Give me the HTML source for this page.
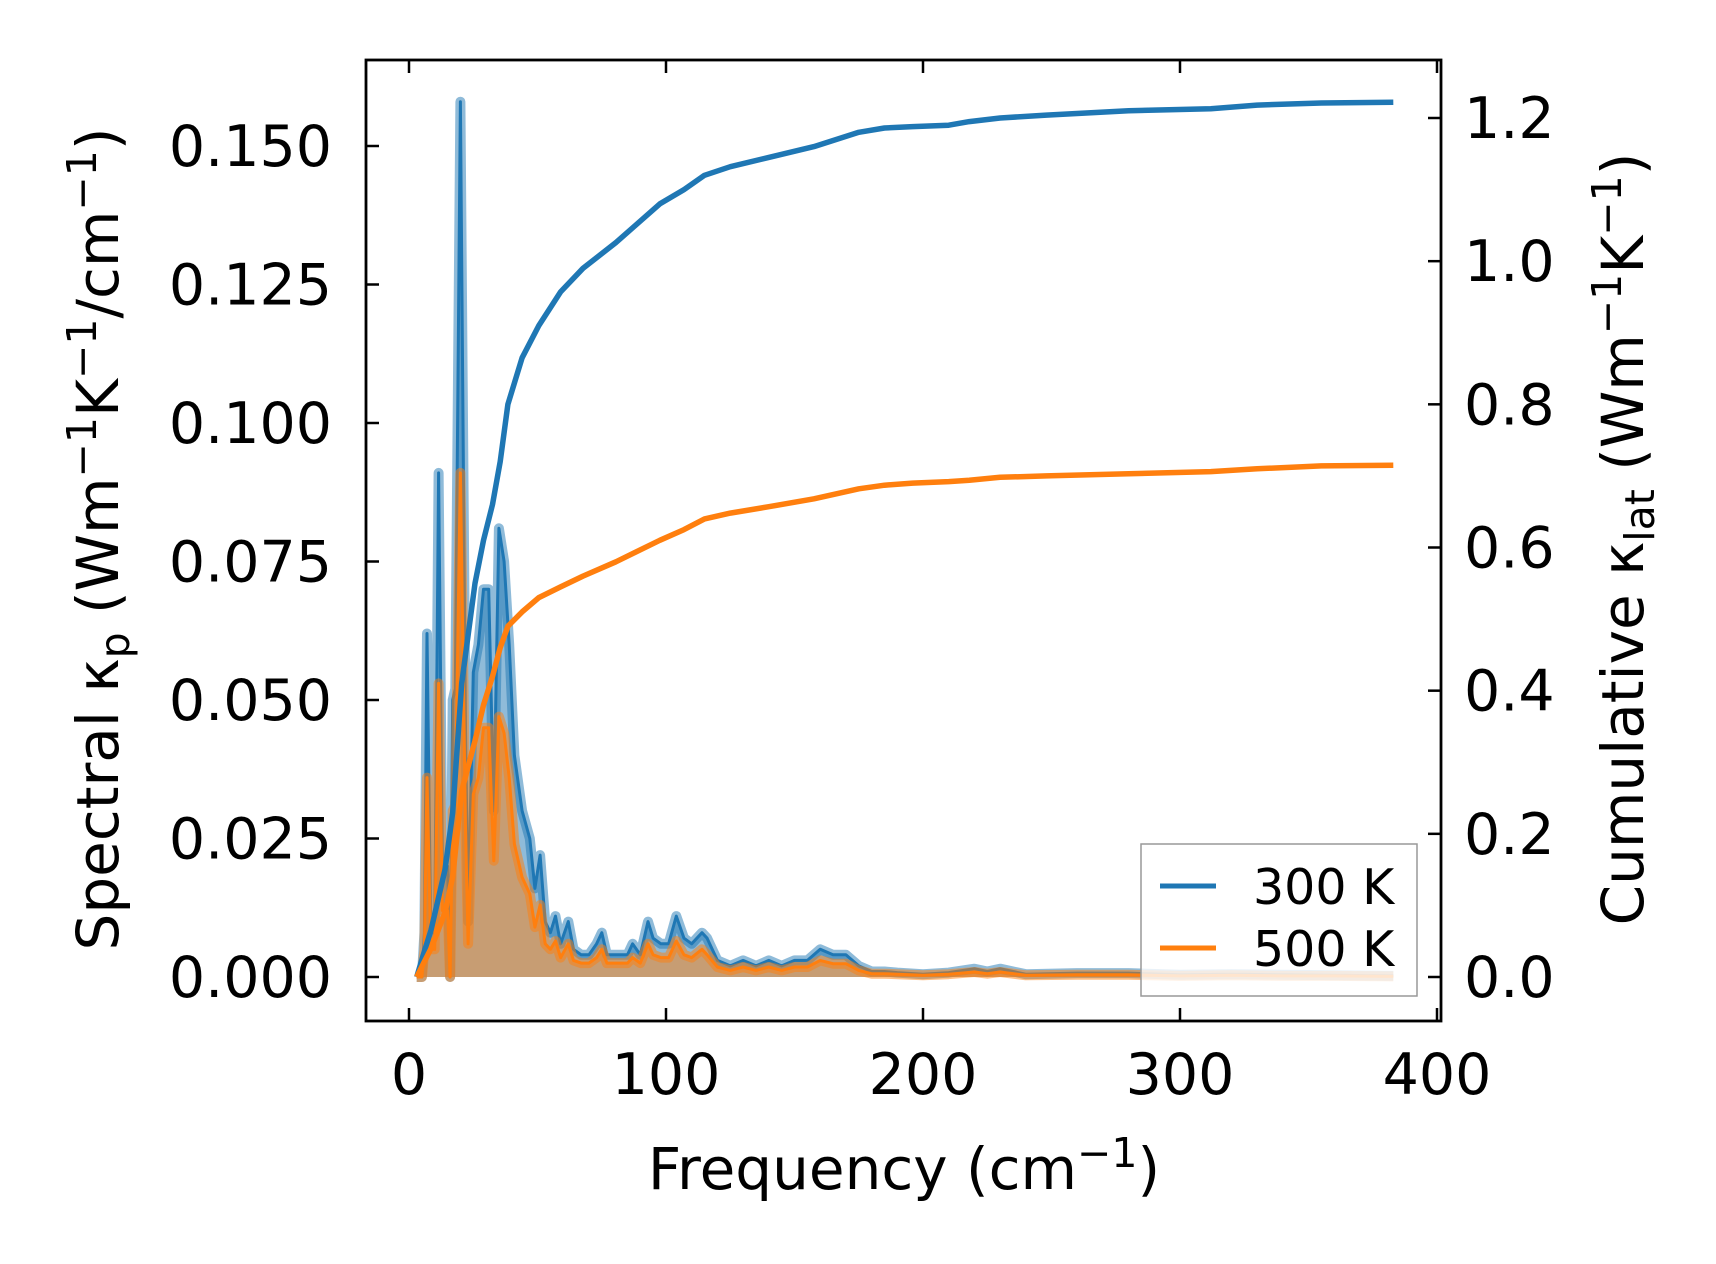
<!DOCTYPE html>
<html><head><meta charset="utf-8">
<style>
html,body{margin:0;padding:0;background:#fff;}
svg{display:block;font-family:"DejaVu Sans","Liberation Sans",sans-serif;}
</style></head>
<body>
<svg id="chart" width="1716" height="1264" viewBox="0 0 1716 1264" xmlns="http://www.w3.org/2000/svg">
<g id="plot"></g>
</svg>
<script>
const freqs = [3,5,6,7,8.5,10,11.5,13,15,16,17,18,20,22,23,25,27,29,31,33,35,37,39,41,44,47,49,51,53,55,57,59,62,64,67,70,73,75,77,80,85,87,90,93,95,98,101,104,107,110,114,116,120,125,130,135,140,145,150,155,160,165,170,175,180,185,190,200,210,220,225,230,240,260,280,300,320,340,360,383];
const spec300 = [0,0,0.008,0.062,0.008,0.008,0.091,0.02,0.02,0,0.05,0.052,0.158,0.045,0.01,0.055,0.06,0.07,0.07,0.03,0.081,0.075,0.06,0.04,0.03,0.025,0.016,0.022,0.01,0.008,0.011,0.006,0.01,0.005,0.004,0.004,0.006,0.008,0.004,0.004,0.004,0.006,0.004,0.01,0.007,0.006,0.006,0.011,0.007,0.006,0.008,0.007,0.003,0.002,0.003,0.002,0.003,0.002,0.003,0.003,0.005,0.004,0.004,0.002,0.001,0.001,0.0008,0.0005,0.0008,0.0015,0.001,0.0015,0.0005,0.0007,0.0007,0.0004,0.0005,0.0004,0.0003,0.0002];
const spec500 = [0,0,0.005,0.036,0.005,0.005,0.053,0.012,0.012,0,0.03,0.031,0.091,0.027,0.006,0.033,0.036,0.045,0.045,0.021,0.047,0.044,0.036,0.024,0.018,0.015,0.009,0.013,0.006,0.005,0.0065,0.0035,0.006,0.003,0.0025,0.0025,0.0035,0.005,0.0025,0.0025,0.0025,0.0035,0.0025,0.006,0.004,0.0035,0.0035,0.0065,0.004,0.0035,0.005,0.004,0.0018,0.0012,0.0018,0.0012,0.0018,0.0012,0.0018,0.0018,0.003,0.0024,0.0024,0.0012,0.0006,0.0006,0.0005,0.0003,0.0005,0.0009,0.0006,0.0009,0.0003,0.0004,0.0004,0.0002,0.0003,0.0002,0.0002,0.0001];
const cumFreq = [3,5.5,8.6,14,17,20.5,25.7,29,32.5,35.5,38.5,44,50.5,59,67.7,80.5,97.6,107,115,125,140,157.6,175,185,196,210,218,230,248,280,312,330,355,383];
const cum300 = [0,0.03,0.066,0.15,0.23,0.41,0.55,0.61,0.66,0.72,0.80,0.865,0.91,0.957,0.99,1.026,1.08,1.10,1.12,1.132,1.145,1.16,1.18,1.186,1.188,1.19,1.195,1.2,1.204,1.21,1.213,1.218,1.221,1.222];
const cum500 = [0,0.018,0.04,0.09,0.14,0.26,0.33,0.38,0.42,0.46,0.49,0.51,0.53,0.545,0.56,0.58,0.61,0.625,0.64,0.648,0.657,0.668,0.682,0.687,0.69,0.692,0.694,0.698,0.70,0.703,0.706,0.71,0.714,0.715];
const xTicks = [0,100,200,300,400];
const yLeftTicks = [0,0.025,0.05,0.075,0.1,0.125,0.15];
const yLeftLabels = ["0.000","0.025","0.050","0.075","0.100","0.125","0.150"];
const yRightTicks = [0,0.2,0.4,0.6,0.8,1.0,1.2];
const yRightLabels = ["0.0","0.2","0.4","0.6","0.8","1.0","1.2"];

const L=366,R=1441,T=60,B=1021;
const X = f => 409 + f*(1437-409)/400;
const YL = v => 977 - v*(977-146)/0.15;
const YR = v => 977 - v*(977-118)/1.2;
const NS="http://www.w3.org/2000/svg";
const g=document.getElementById('plot');
function mk(tag,attrs,parent){const e=document.createElementNS(NS,tag);for(const k in attrs)e.setAttribute(k,attrs[k]);(parent||g).appendChild(e);return e;}
const blue="#1f77b4", orange="#ff7f0e";

function spectral(vals,color,name){
  let d="M"+X(freqs[0])+","+YL(0);
  freqs.forEach((f,i)=>{d+=" L"+X(f).toFixed(1)+","+YL(vals[i]).toFixed(1);});
  d+=" L"+X(freqs[freqs.length-1])+","+YL(0)+" Z";
  const fill=mk('path',{d:d,fill:color,'fill-opacity':0.5,stroke:'none'});
  
  
  let ld="";
  freqs.forEach((f,i)=>{ld+=(i?" L":"M")+X(f).toFixed(1)+","+YL(vals[i]).toFixed(1);});
  const halo=mk('path',{d:ld,fill:'none',stroke:color,'stroke-opacity':0.5,'stroke-width':10,'stroke-linejoin':'round'});
  
  
  const ln=mk('path',{d:ld,fill:'none',stroke:color,'stroke-width':3,'stroke-linejoin':'round'});
  
  
}
spectral(spec300,blue,'spectral-300k');
spectral(spec500,orange,'spectral-500k');

function cum(vals,color,name){
  let d="";
  cumFreq.forEach((f,i)=>{d+=(i?" L":"M")+X(f).toFixed(1)+","+YR(vals[i]).toFixed(1);});
  const p=mk('path',{d:d,fill:'none',stroke:color,'stroke-width':5.5,'stroke-linejoin':'round'});
  
  
}
cum(cum300,blue,'cumulative-300k-line');
cum(cum500,orange,'cumulative-500k-line');

const TL=13;
xTicks.forEach((t,i)=>{
  const x=X(t);
  const a=mk('line',{x1:x,x2:x,y1:B,y2:B-TL,stroke:'#000','stroke-width':2.5});
  
  
  const b=mk('line',{x1:x,x2:x,y1:T,y2:T+TL,stroke:'#000','stroke-width':2.5});
  
  
  const tx=mk('text',{x:x,y:1094,'font-size':57,'text-anchor':'middle',fill:'#000'});
  tx.textContent=t;
  
  
});
yLeftTicks.forEach((t,i)=>{
  const y=YL(t);
  const a=mk('line',{x1:L,x2:L+TL,y1:y,y2:y,stroke:'#000','stroke-width':2.5});
  
  
  const tx=mk('text',{x:332,y:y+20,'font-size':57,'text-anchor':'end',fill:'#000'});
  tx.textContent=yLeftLabels[i];
  
  
});
yRightTicks.forEach((t,i)=>{
  const y=YR(t);
  const a=mk('line',{x1:R,x2:R-TL,y1:y,y2:y,stroke:'#000','stroke-width':2.5});
  
  
  const tx=mk('text',{x:1464,y:y+20,'font-size':57,'text-anchor':'start',fill:'#000'});
  tx.textContent=yRightLabels[i];
  
  
});
const fr=mk('rect',{x:L,y:T,width:R-L,height:B-T,fill:'none',stroke:'#000','stroke-width':2.8});



const lg=mk('g',{});


mk('rect',{x:1141,y:844,width:276,height:152,fill:'#fff','fill-opacity':0.8,stroke:'#999','stroke-width':1.5},lg);
[[blue,'300 K',886],[orange,'500 K',948]].forEach(([c,lab,y])=>{
  const e=mk('g',{},lg);
  
  
  mk('line',{x1:1160,x2:1216,y1:y,y2:y,stroke:c,'stroke-width':5},e);
  const t=mk('text',{x:1253,y:y+18,'font-size':49,fill:'#000'},e);
  t.textContent=lab;
});
</script>
<svg style="position:absolute;left:0;top:0" width="1716" height="1264">
<text x="904" y="1189" font-size="58" text-anchor="middle" font-family="DejaVu Sans, Liberation Sans, sans-serif">Frequency (cm<tspan dy="-22" font-size="41">−1</tspan><tspan dy="22">)</tspan></text>
<text transform="translate(118,539) rotate(-90)" font-size="58" text-anchor="middle" font-family="DejaVu Sans, Liberation Sans, sans-serif">Spectral κ<tspan dy="11" font-size="41">p</tspan><tspan dy="-11"> (Wm</tspan><tspan dy="-22" font-size="41">−1</tspan><tspan dy="22">K</tspan><tspan dy="-22" font-size="41">−1</tspan><tspan dy="22">/cm</tspan><tspan dy="-22" font-size="41">−1</tspan><tspan dy="22">)</tspan></text>
<text transform="translate(1643,539) rotate(-90)" font-size="58" text-anchor="middle" font-family="DejaVu Sans, Liberation Sans, sans-serif">Cumulative κ<tspan dy="11" font-size="41">lat</tspan><tspan dy="-11"> (Wm</tspan><tspan dy="-22" font-size="41">−1</tspan><tspan dy="22">K</tspan><tspan dy="-22" font-size="41">−1</tspan><tspan dy="22">)</tspan></text>
</svg>
</body></html>
